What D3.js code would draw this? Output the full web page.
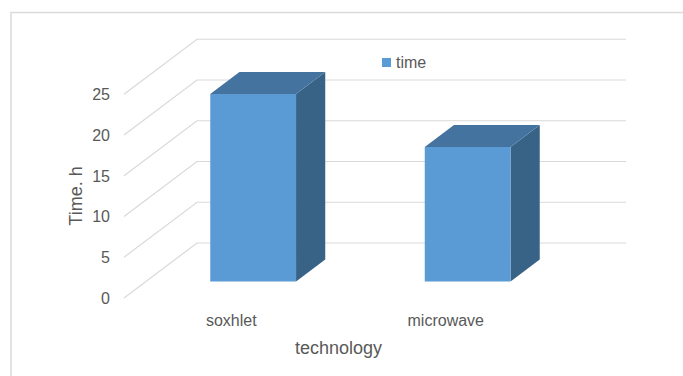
<!DOCTYPE html>
<html>
<head>
<meta charset="utf-8">
<script src="https://cdn.jsdelivr.net/npm/d3@7/dist/d3.min.js"></script>
<style>
  html, body { margin: 0; padding: 0; background: #fff; }
  svg { display: block; }
  text { font-family: "Liberation Sans", Arial, sans-serif; fill: #595959; }
</style>
</head>
<body>
<svg id="chart" width="683" height="376"></svg>
<script>
// Extraction time by technology
const categories = ["soxhlet", "microwave"];
const timeValues = [23, 16.5];
const tickValues = [0, 5, 10, 15, 20, 25];
const seriesName = "time";
const xTitle = "technology";
const yTitle = "Time. h";

const W = 683, H = 376;
const svg = d3.select("#chart");

// 3D box geometry: floor front edge, depth offset of the back wall
const DX = 73, DY = 55;          // full depth offset (right, up)
const zFront = 0.3, zBack = 0.7; // bar depth span within the floor

const x = d3.scaleBand()
  .domain(categories)
  .range([124, 553])
  .paddingInner(0.6)
  .paddingOuter(0.3);

const y = d3.scaleLinear().domain([0, 25]).range([298, 94.25]);

const proj = (px, v, z) => [px + z * DX, y(v) - z * DY];
const poly = pts => "M" + pts.map(p => p.join(",")).join("L") + "Z";

// chart frame
svg.append("rect")
  .attr("x", 11).attr("y", 12.5)
  .attr("width", W + 20).attr("height", H + 20)
  .attr("fill", "none").attr("stroke", "#d9d9d9").attr("stroke-width", 1.5);

// gridlines: left wall diagonals + back wall horizontals
const [xl, xr] = x.range();
const grid = svg.append("g").attr("stroke", "#d9d9d9").attr("stroke-width", 1.2).attr("fill", "none");
tickValues.forEach(v => {
  const a = proj(xl, v, 0), b = proj(xl, v, 1), c = proj(xr, v, 1);
  grid.append("path").attr("d", `M${a}L${b}L${c}`);
});

// tick labels
svg.append("g").selectAll("text").data(tickValues).join("text")
  .attr("x", 110).attr("y", d => y(d))
  .attr("dy", "0.36em")
  .attr("text-anchor", "end")
  .attr("font-size", 16)
  .text(d => d);

// bars
const faceFront = "#5b9bd5", faceTop = "#44739f", faceSide = "#386387";
const bars = svg.append("g").selectAll("g").data(categories.map((c, i) => ({ c, v: timeValues[i] }))).join("g");
bars.each(function (d) {
  const g = d3.select(this);
  const x0 = x(d.c), x1 = x0 + x.bandwidth();
  const f00 = proj(x0, 0, zFront), f10 = proj(x1, 0, zFront);
  const f0v = proj(x0, d.v, zFront), f1v = proj(x1, d.v, zFront);
  const b10 = proj(x1, 0, zBack), b0v = proj(x0, d.v, zBack), b1v = proj(x1, d.v, zBack);
  g.append("path").attr("d", poly([f10, b10, b1v, f1v])).attr("fill", faceSide);
  g.append("path").attr("d", poly([f0v, f1v, b1v, b0v])).attr("fill", faceTop);
  g.append("path").attr("d", poly([f00, f10, f1v, f0v])).attr("fill", faceFront);
});

// category labels at the front floor edge
svg.append("g").selectAll("text").data(categories).join("text")
  .attr("x", d => x(d) + x.bandwidth() / 2)
  .attr("y", 326)
  .attr("text-anchor", "middle")
  .attr("font-size", 16)
  .text(d => d);

// axis titles
svg.append("text")
  .attr("x", (xl + xr) / 2).attr("y", 354)
  .attr("text-anchor", "middle")
  .attr("font-size", 18)
  .text(xTitle);

svg.append("text")
  .attr("transform", "translate(82,196) rotate(-90)")
  .attr("text-anchor", "middle")
  .attr("font-size", 18)
  .text(yTitle);

// legend
const lg = svg.append("g").attr("transform", "translate(382,58)");
lg.append("rect").attr("width", 9).attr("height", 9).attr("fill", faceFront);
lg.append("text").attr("x", 14).attr("y", 4.5).attr("dy", "0.36em").attr("font-size", 16).text(seriesName);
</script>
</body>
</html>
